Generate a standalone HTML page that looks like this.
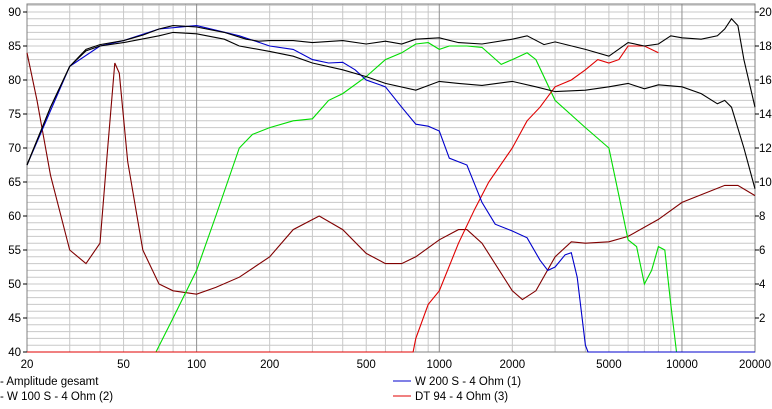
<!DOCTYPE html>
<html><head><meta charset="utf-8"><style>
body{margin:0;background:#fff;width:772px;height:404px;overflow:hidden;font-family:"Liberation Sans",sans-serif}
svg text{font-family:"Liberation Sans",sans-serif;font-size:11.5px}
</style></head><body>
<svg id="c" width="772" height="404"></svg>
<script>
const leftTicks=[40,45,50,55,60,65,70,75,80,85,90];
const rightTicks=[2,4,6,8,10,12,14,16,18,20];
const xTicks=[20,50,100,200,500,1000,2000,5000,10000,20000];
const upperF=[20,25,30,35,40,50,60,70,80,100,130,160,180,200,250,300,400,500,600,700,800,1000,1200,1500,2000,2300,2700,3000,4000,5000,6000,7000,8000,9000,10000,12000,14000,15000,16000,17000,18000,20000];
const upperV=[67.5,76,82,84.5,85.2,85.8,86.6,87.5,88,87.8,87,86,85.7,85.8,85.8,85.5,85.8,85.3,85.7,85.3,86,86.2,85.5,85.3,86,86.5,85.2,85.6,84.5,83.5,85.5,85,85.3,86.5,86.2,86,86.5,87.5,89,88,83,76];
const lowerF=[20,25,30,35,40,50,70,80,100,130,150,200,250,300,400,500,600,800,1000,1200,1500,2000,2500,3000,4000,5000,6000,7000,8000,10000,12000,14000,15000,16000,18000,20000];
const lowerV=[67.5,76,82,84.3,85,85.5,86.5,87,86.8,86,85,84.2,83.5,82.5,81.5,80.5,79.5,78.5,79.8,79.5,79.2,79.8,79,78.3,78.5,79,79.5,78.7,79.3,79,78,76.5,77,76,70,64];
const blueF=[20,30,40,50,70,100,150,200,250,300,350,400,450,500,600,700,800,900,1000,1100,1300,1500,1700,2000,2300,2600,2800,3000,3300,3500,3700,4000,4100,20000];
const blueV=[67.5,82,85,85.8,87.5,88,86.5,85,84.5,83,82.5,82.6,81.5,80,79,76,73.5,73.2,72.5,68.5,67.5,62,58.8,57.8,56.8,53.5,52,52.5,54.3,54.6,51,41,40,40];
const greenF=[20,68,80,100,120,150,170,200,250,300,350,400,500,600,700,800,900,1000,1100,1300,1500,1800,2000,2300,2500,3000,4000,5000,5500,6000,6500,7000,7500,8000,8500,9000,9500,20000];
const greenV=[40,40,45,52,60,70,72,73,74,74.3,77,78,80.5,83,84,85.3,85.5,84.5,85,85,84.8,82.3,83,84,83,77,73,70,63,56.5,55.5,50,52,55.5,55,47,40,40];
const redF=[20,780,800,900,1000,1200,1400,1600,2000,2300,2600,3000,3500,4000,4500,5000,5500,6000,7000,8000];
const redV=[40,40,42,47,49,56,61,65,70,74,76,79,80,81.5,83,82.5,83,85,85,84];
const impF=[20,22,25,30,35,40,43,46,48,52,60,70,80,100,120,150,200,250,320,400,500,600,700,800,1000,1200,1300,1500,2000,2200,2500,3000,3500,4000,5000,6000,8000,10000,15000,17000,20000];
const impV=[84,77,66,55,53,56,70,82.5,81,68,55,50,49,48.5,49.5,51,54,58,60,58,54.5,53,53,54,56.5,58,58,56,49,47.7,49,54,56.2,56,56.2,57,59.5,62,64.5,64.5,63];
const X0=27,X1=755,Y0=4,Y1=352;
const x=f=>X0+(Math.log10(f)-Math.log10(20))/3*(X1-X0);
const y=v=>12+(90-v)*6.8;
const s=document.getElementById('c');const NS='http://www.w3.org/2000/svg';
function el(t,a,p){const e=document.createElementNS(NS,t);for(const k in a)e.setAttribute(k,a[k]);(p||s).appendChild(e);return e;}
const g=el('g',{});


for(let v=40;v<=91;v++){el('line',{x1:X0,x2:X1,y1:y(v),y2:y(v),stroke:'#c8c8c8','stroke-width':1},g);}
for(let d=10;d<=10000;d*=10)for(let m=1;m<10;m++){const f=d*m;if(f<20||f>20000)continue;const dark=(m==1);el('line',{x1:x(f),x2:x(f),y1:Y0,y2:Y1,stroke:dark?'#909090':'#c8c8c8','stroke-width':1},g);}
el('rect',{x:X0,y:Y0,width:X1-X0,height:Y1-Y0,fill:'none',stroke:'#808080'});
for(const t of leftTicks){const e=el('text',{x:21,y:y(t)+4,'text-anchor':'end',fill:'#000'});e.textContent=t;


el('line',{x1:X0-4,x2:X0,y1:y(t),y2:y(t),stroke:'#000'});}
for(const t of rightTicks){const yy=y(40+t*2.5);const e=el('text',{x:759,y:yy+4,fill:'#000'});e.textContent=t;


el('line',{x1:X1,x2:X1+4,y1:yy,y2:yy,stroke:'#000'});}
for(const t of xTicks){const e=el('text',{x:x(t),y:368,'text-anchor':'middle',fill:'#000'});e.textContent=t;

}
function line(F,V,col,name){const d=F.map((f,i)=>(i?'L':'M')+x(f).toFixed(1)+','+y(V[i]).toFixed(1)).join('');const p=el('path',{d:d,fill:'none',stroke:col,'stroke-width':1.1});

}
line(impF,impV,'#800000','impedance-line');
line(greenF,greenV,'#00dd00','w100-line');
line(redF,redV,'#e00000','dt94-line');
line(blueF,blueV,'#0000cc','w200-line');
line(upperF,upperV,'#000','amplitude-upper-line');
line(lowerF,lowerV,'#000','amplitude-lower-line');
const leg=[[0,385,'#000','- Amplitude gesamt'],[0,400,'#00cc00','- W 100 S - 4 Ohm (2)'],[0,414,'#000','- Impedanz Verstärker 1'],[393,385,'#0000cc','W 200 S - 4 Ohm (1)'],[393,400,'#e00000','DT 94 - 4 Ohm (3)'],[393,414,'#000','Frequenz']];
for(const L of leg){const e=el('text',{x:L[0]+(L[0]?22:0),y:L[1],fill:'#000'});e.textContent=L[3];


if(L[0])el('line',{x1:L[0],x2:L[0]+18,y1:L[1]-4,y2:L[1]-4,stroke:L[2]});}
</script>
</body></html>
